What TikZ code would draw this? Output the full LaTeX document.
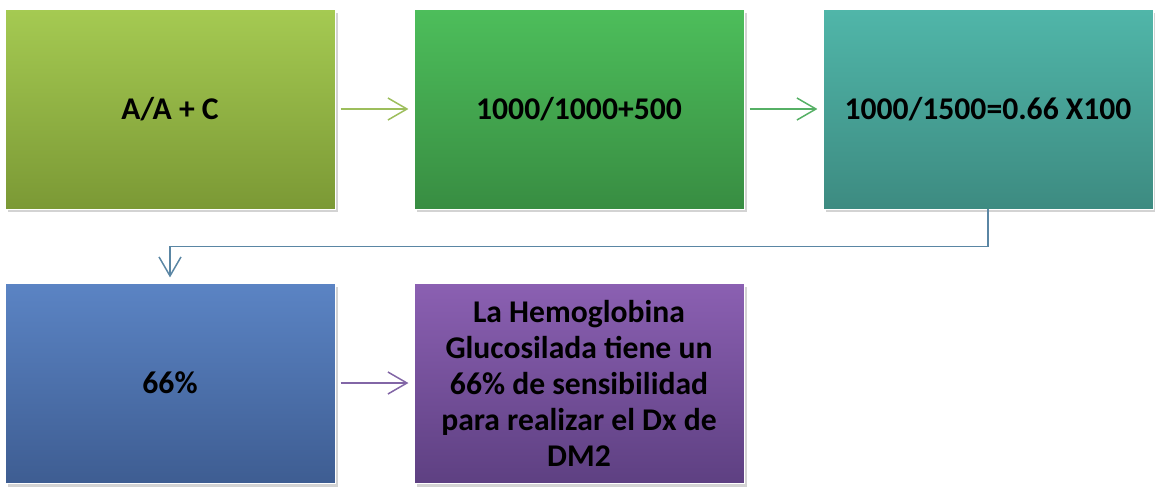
\documentclass[tikz,border=0pt]{standalone}
\usepackage{fontspec}
\setmainfont{Carlito}
\usepackage{tikz}
\usetikzlibrary{arrows.meta,shadows}
\definecolor{limeT}{HTML}{A5CA52}
\definecolor{limeB}{HTML}{7B9935}
\definecolor{grnT}{HTML}{4DBE5B}
\definecolor{grnB}{HTML}{388D42}
\definecolor{tealT}{HTML}{50B6A9}
\definecolor{tealB}{HTML}{3D8B81}
\definecolor{bluT}{HTML}{5B84C4}
\definecolor{bluB}{HTML}{3E5D92}
\definecolor{purT}{HTML}{8B60B2}
\definecolor{purB}{HTML}{5E4082}
\definecolor{limeA}{HTML}{9DBE5C}
\definecolor{grnA}{HTML}{56B065}
\definecolor{steelA}{HTML}{5A86A4}
\definecolor{purA}{HTML}{8266A6}

\begin{document}
\begin{tikzpicture}[x=0.02cm, y=-0.02cm,
  box/.style = {rectangle, minimum width=6.6cm, minimum height=4cm,
    inner sep=0pt, align=center, draw=white, line width=0.4pt,
    font=\fontsize{18}{20.5}\selectfont\bfseries,
    drop shadow={shadow xshift=1.5pt, shadow yshift=-2pt, opacity=0.35}},
  link/.style = {line width=0.85pt, -{Straight Barb[length=0.38cm, width=0.44cm]}}]
  \useasboundingbox (0, 0) rectangle (1155, 487);
  \node [box, top color=limeT, bottom color=limeB] (AA) at (170, 109) {A/A + C};
  \node [box, top color=grnT, bottom color=grnB] (AB) at (579, 109) {1000/1000+500};
  \node [box, top color=tealT, bottom color=tealB] (AC) at (988, 109) {1000/1500=0.66 X100};
  \node [box, top color=bluT, bottom color=bluB] (BA) at (170, 383) {66\%};
  \node [box, top color=purT, bottom color=purB] (BB) at (579, 383)
    {La Hemoglobina\\Glucosilada tiene un\\66\% de sensibilidad\\para realizar el Dx de\\DM2};
  \draw [link, limeA, shorten <=3pt, shorten >=3pt] (AA) -- (AB);
  \draw [link, grnA, shorten <=3pt, shorten >=3pt] (AB) -- (AC);
  \draw [link, steelA, shorten >=3pt] (AC.south) -- ++(0, 37) -| (BA.north);
  \draw [link, purA, shorten <=3pt, shorten >=3pt] (BA) -- (BB);
\end{tikzpicture}
\end{document}
